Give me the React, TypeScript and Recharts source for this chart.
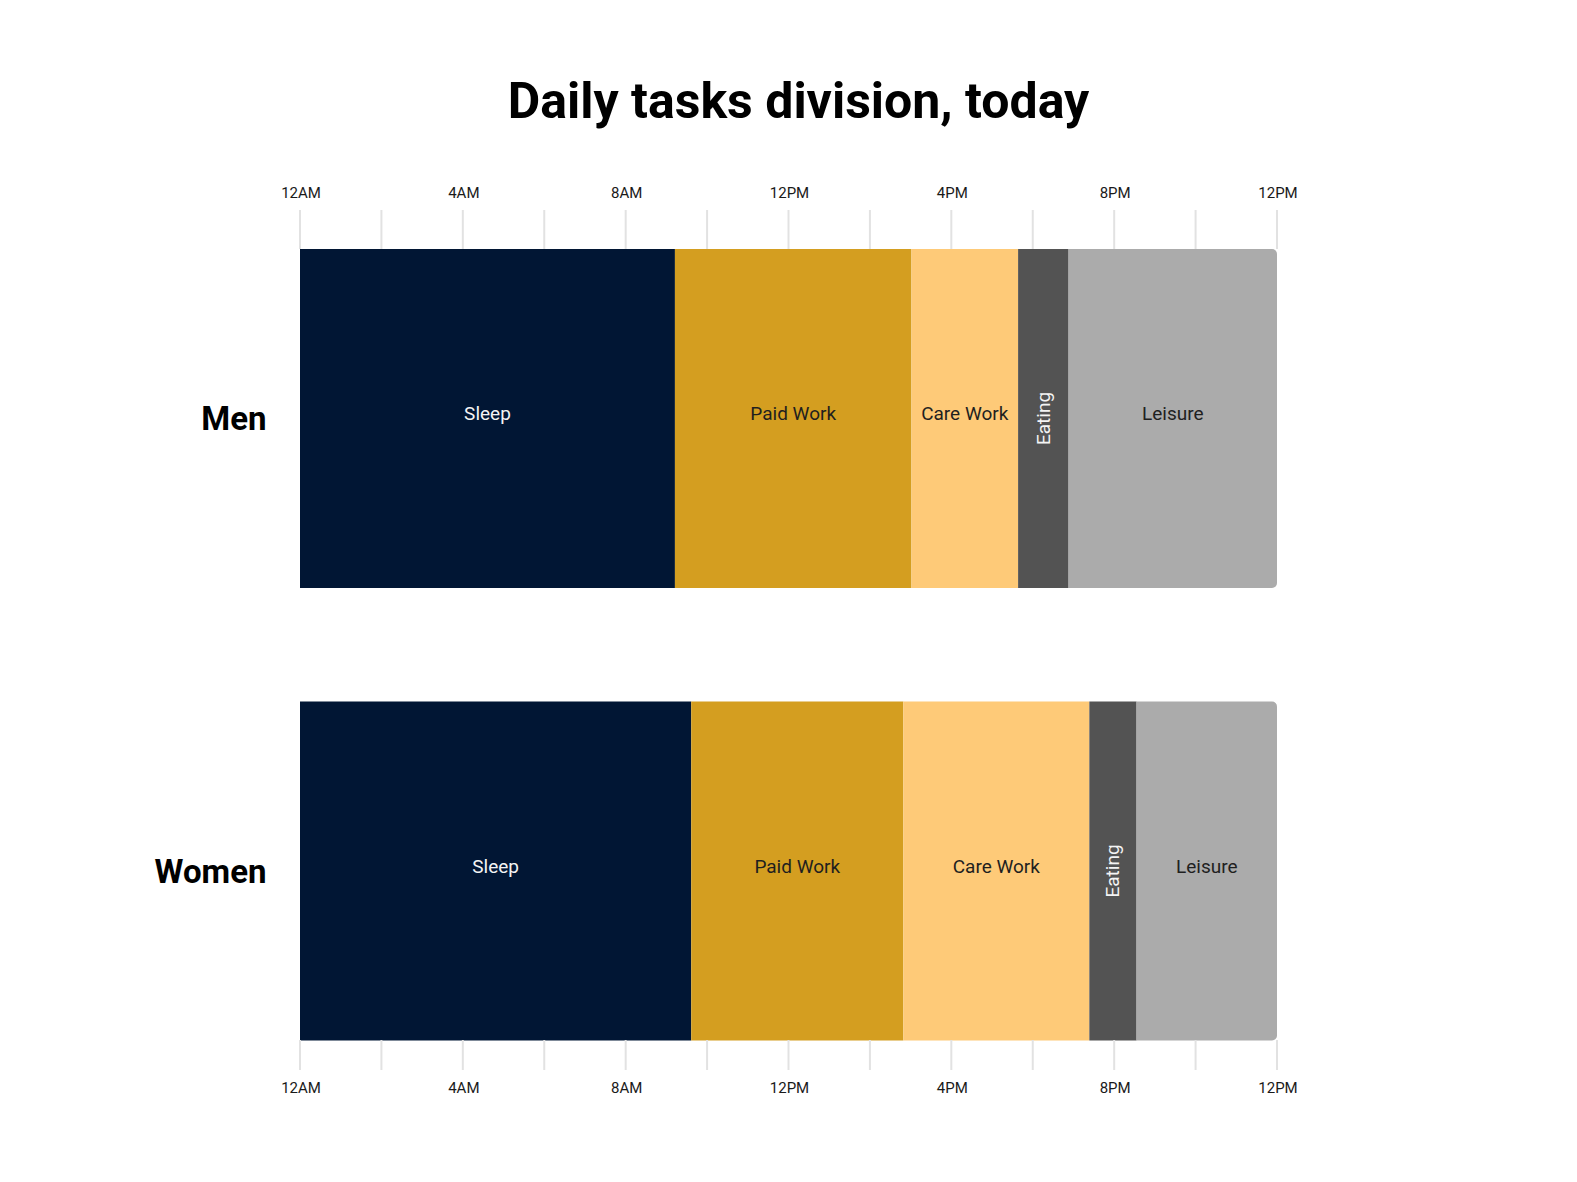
import React from 'react';
import { BarChart, Bar, XAxis, YAxis, LabelList } from 'recharts';

const categories = ['Men', 'Women'];
const sleep = [9.21, 9.61];
const paidWork = [5.81, 5.21];
const careWork = [2.62, 4.57];
const eating = [1.24, 1.16];
const leisure = [5.12, 3.45];
const hourTicks = [0, 2, 4, 6, 8, 10, 12, 14, 16, 18, 20, 22, 24];
const hourLabels: Record<number, string> = {
  0: '12AM',
  4: '4AM',
  8: '8AM',
  12: '12PM',
  16: '4PM',
  20: '8PM',
  24: '12PM',
};

const data = categories.map((name, i) => ({
  name,
  sleep: sleep[i],
  paid: paidWork[i],
  care: careWork[i],
  eating: eating[i],
  leisure: leisure[i],
}));

const FONT = 'Roboto, "Noto Sans", sans-serif';
const GRID = '#e2e2e2';

const TopTick = (props: any) => {
  const { x, y, payload } = props;
  const v = payload.value;
  const label = hourLabels[v];
  return (
    <g>
      <line x1={x} x2={x} y1={y + 18} y2={y + 57} stroke={GRID} strokeWidth={2} />
      {label && (
        <text x={x + 1} y={y + 6.3} textAnchor="middle" fontFamily={FONT} fontSize={15} fill="#1a1a1a">
          {label}
        </text>
      )}
    </g>
  );
};

const BottomTick = (props: any) => {
  const { x, y, payload } = props;
  const v = payload.value;
  const label = hourLabels[v];
  return (
    <g>
      <line x1={x} x2={x} y1={y - 57} y2={y - 27} stroke={GRID} strokeWidth={2} />
      {label && (
        <text x={x + 1} y={y - 4.3} textAnchor="middle" fontFamily={FONT} fontSize={15} fill="#1a1a1a">
          {label}
        </text>
      )}
    </g>
  );
};

const CategoryTick = (props: any) => {
  const { x, y, payload } = props;
  return (
    <text x={x - 33.5} y={y} dy={11.8} textAnchor="end" fontFamily={FONT} fontWeight={700} fontSize={33} fill="#000">
      {payload.value}
    </text>
  );
};

const makeLabel = (text: string, color: string, vertical: boolean) => (props: any) => {
  const x = Number(props.x);
  const y = Number(props.y);
  const w = Number(props.width);
  const h = Number(props.height);
  const cx = x + w / 2;
  const cy = y + h / 2;
  if (vertical) {
    return (
      <text
        x={cx}
        y={cy}
        transform={`rotate(-90, ${cx}, ${cy})`}
        textAnchor="middle"
        dominantBaseline="central"
        fontFamily={FONT}
        fontSize={19}
        fill={color}
      >
        {text}
      </text>
    );
  }
  return (
    <text x={cx} y={cy - 5} textAnchor="middle" dominantBaseline="central" fontFamily={FONT} fontSize={19} fill={color}>
      {text}
    </text>
  );
};

export default function App() {
  return (
    <div style={{ position: 'absolute', left: 0, top: 0, width: 1577, height: 1182, background: '#fff' }}>
      <div
        style={{
          position: 'absolute',
          left: 10,
          top: 76,
          width: 1577,
          textAlign: 'center',
          fontFamily: FONT,
          fontWeight: 700,
          fontSize: 50,
          lineHeight: '50px',
          color: '#000',
        }}
      >
        Daily tasks division, today
      </div>
      <div style={{ position: 'absolute', left: 0, top: 0 }}>
        <BarChart
          width={1577}
          height={1182}
          data={data}
          layout="vertical"
          margin={{ top: 152, right: 300, bottom: 45, left: 0 }}
        >
          <XAxis
            xAxisId="top"
            type="number"
            orientation="top"
            domain={[0, 24]}
            ticks={hourTicks}
            interval={0}
            height={40}
            axisLine={false}
            tickLine={false}
            tickSize={0}
            tickMargin={0}
            tick={<TopTick />}
            allowDataOverflow
          />
          <XAxis
            xAxisId="bottom"
            type="number"
            orientation="bottom"
            domain={[0, 24]}
            ticks={hourTicks}
            interval={0}
            height={40}
            axisLine={false}
            tickLine={false}
            tickSize={0}
            tickMargin={0}
            tick={<BottomTick />}
            allowDataOverflow
          />
          <YAxis
            type="category"
            dataKey="name"
            width={300}
            axisLine={false}
            tickLine={false}
            tickSize={0}
            tickMargin={0}
            tick={<CategoryTick />}
          />
          <Bar dataKey="sleep" stackId="a" xAxisId="top" barSize={339} fill="#011634" isAnimationActive={false}>
            <LabelList dataKey="sleep" content={makeLabel('Sleep', '#f4f4f4', false)} />
          </Bar>
          <Bar dataKey="paid" stackId="a" xAxisId="top" barSize={339} fill="#D49E20" isAnimationActive={false}>
            <LabelList dataKey="paid" content={makeLabel('Paid Work', '#1f1f1f', false)} />
          </Bar>
          <Bar dataKey="care" stackId="a" xAxisId="top" barSize={339} fill="#FECA78" isAnimationActive={false}>
            <LabelList dataKey="care" content={makeLabel('Care Work', '#1f1f1f', false)} />
          </Bar>
          <Bar dataKey="eating" stackId="a" xAxisId="top" barSize={339} fill="#535353" isAnimationActive={false}>
            <LabelList dataKey="eating" content={makeLabel('Eating', '#f4f4f4', true)} />
          </Bar>
          <Bar
            dataKey="leisure"
            stackId="a"
            xAxisId="top"
            barSize={339}
            fill="#ABABAB"
            radius={[0, 5, 5, 0]}
            isAnimationActive={false}
          >
            <LabelList dataKey="leisure" content={makeLabel('Leisure', '#1f1f1f', false)} />
          </Bar>
        </BarChart>
      </div>
    </div>
  );
}
